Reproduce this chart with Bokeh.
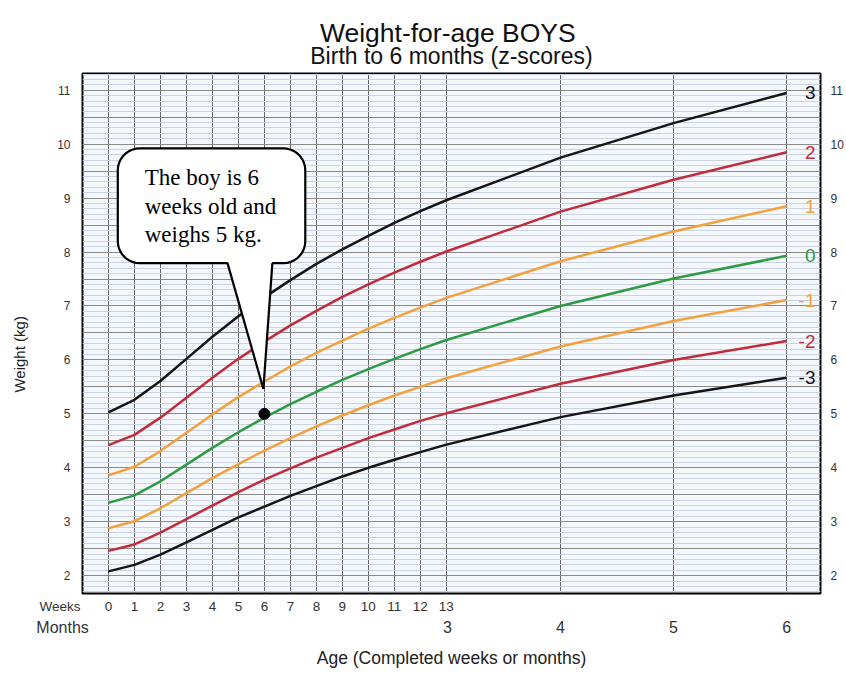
import math
from bokeh.plotting import figure
from bokeh.models import FixedTicker, LinearAxis, Range1d, Title
from bokeh.core.properties import value
from bokeh.embed import file_html
from bokeh.resources import INLINE

# ---------------- data ----------------
DAYS_PER_WEEK = 7.0
DAYS_PER_MONTH = 30.4375

week_ticks = list(range(0, 14))
week_labels = [str(w) for w in week_ticks]
month_ticks = [3, 4, 5, 6]
month_labels = ["3", "4", "5", "6"]
weight_ticks = list(range(2, 12))
row_names = ["Weeks", "Months"]

# ages of the curve points: weeks 0..13, then months 4, 5, 6
age_weeks = list(range(0, 14))
age_months = [4, 5, 6]

sd3 = [5.03, 5.26, 5.61, 6.02, 6.43, 6.81, 7.16, 7.48, 7.78, 8.05, 8.30, 8.54, 8.76, 8.96, 9.75, 10.39, 10.95]
sd2 = [4.42, 4.61, 4.93, 5.30, 5.67, 6.02, 6.34, 6.64, 6.91, 7.17, 7.40, 7.62, 7.82, 8.01, 8.75, 9.34, 9.85]
sd1 = [3.86, 4.02, 4.31, 4.65, 4.99, 5.31, 5.60, 5.88, 6.13, 6.36, 6.58, 6.78, 6.97, 7.15, 7.83, 8.38, 8.85]
sd0 = [3.35, 3.49, 3.75, 4.06, 4.37, 4.66, 4.93, 5.18, 5.41, 5.63, 5.83, 6.02, 6.20, 6.37, 7.00, 7.51, 7.93]
sd1n = [2.88, 3.01, 3.25, 3.53, 3.81, 4.07, 4.32, 4.55, 4.77, 4.97, 5.16, 5.34, 5.50, 5.66, 6.25, 6.72, 7.11]
sd2n = [2.46, 2.58, 2.80, 3.05, 3.30, 3.55, 3.78, 3.99, 4.19, 4.37, 4.55, 4.71, 4.87, 5.01, 5.56, 6.00, 6.35]
sd3n = [2.08, 2.20, 2.39, 2.62, 2.85, 3.08, 3.28, 3.48, 3.66, 3.84, 4.00, 4.15, 4.29, 4.43, 4.94, 5.34, 5.67]

curve_names = ["3", "2", "1", "0", "-1", "-2", "-3"]
curve_values = [sd3, sd2, sd1, sd0, sd1n, sd2n, sd3n]

child_age_weeks = 6
child_weight = 5.0
callout_lines = ["The boy is 6", "weeks old and", "weighs 5 kg."]

# ---------------- styles ----------------
BLACK = "#151515"
RED = "#c02c3c"
ORANGE = "#f2a23c"
GREEN = "#2e9a44"
curve_colors = [BLACK, RED, ORANGE, GREEN, ORANGE, RED, BLACK]
SANS = "Liberation Sans"
SERIF = "Liberation Serif"
NBSP = "\u00a0"

W, H = 846, 670
BL, BR, BT, BB = 82, 24, 73, 76
X0, X1 = -0.2294, 6.30
Y0, Y1 = 1.67, 11.31
PX_X = (W - BL - BR) / (X1 - X0)
PX_Y = (H - BT - BB) / (Y1 - Y0)


def wk(w):
    return w * DAYS_PER_WEEK / DAYS_PER_MONTH


x_curve = [wk(w) for w in age_weeks] + list(age_months)
week_x = [wk(w) for w in week_ticks]
row_tick = X0 + 0.0005   # row names are centred on the frame's left edge

p = figure(width=W, height=H, x_range=Range1d(X0, X1), y_range=Range1d(Y0, Y1),
           output_backend="svg", toolbar_location=None, title=None,
           min_border_left=BL, min_border_right=BR, min_border_top=BT, min_border_bottom=BB)
p.background_fill_color = "#f4f7fb"
p.border_fill_color = "white"
p.outline_line_color = "black"
p.outline_line_width = 2

# grid
p.xgrid.ticker = FixedTicker(ticks=week_x + [4, 5, 6])
p.xgrid.grid_line_color = "#666666"
p.xgrid.grid_line_width = 1
p.ygrid.ticker = FixedTicker(ticks=[1.5 + 0.5 * i for i in range(21)],
                             minor_ticks=[1.6 + 0.1 * i for i in range(100)])
p.ygrid.grid_line_color = "#8a8a8a"
p.ygrid.grid_line_width = 1
p.ygrid.minor_grid_line_color = "#c9d3e1"
p.ygrid.minor_grid_line_width = 1


def style_axis(ax, size, standoff):
    ax.axis_line_color = None
    ax.major_tick_line_color = None
    ax.minor_tick_line_color = None
    ax.major_tick_out = 0
    ax.major_tick_in = 0
    ax.minor_tick_out = 0
    ax.minor_tick_in = 0
    ax.major_label_text_font = SANS
    ax.major_label_text_font_size = size
    ax.major_label_text_color = "#333333"
    ax.major_label_standoff = standoff


# y axes
yax = p.yaxis[0]
yax.ticker = FixedTicker(ticks=weight_ticks)
style_axis(yax, "12px", 12)
yax.axis_label = "Weight (kg)" + NBSP * 10
yax.axis_label_text_font = SANS
yax.axis_label_text_font_size = "15px"
yax.axis_label_text_font_style = "normal"
yax.axis_label_text_color = "#222222"
yax.axis_label_standoff = 26
yax2 = LinearAxis(ticker=FixedTicker(ticks=weight_ticks))
style_axis(yax2, "12px", 10)
p.add_layout(yax2, "right")

# x axes (weeks row + months row); the row name sits left of the frame
xax = p.xaxis[0]
xax.ticker = FixedTicker(ticks=[row_tick] + week_x)
overrides = {x: lab for x, lab in zip(week_x, week_labels)}
overrides[row_tick] = row_names[0] + NBSP * 12
xax.major_label_overrides = overrides
style_axis(xax, "13.5px", 5)

xax2 = LinearAxis(ticker=FixedTicker(ticks=[row_tick] + month_ticks))
overrides2 = {m: lab for m, lab in zip(month_ticks, month_labels)}
overrides2[row_tick] = row_names[1] + NBSP * 9
xax2.major_label_overrides = overrides2
style_axis(xax2, "16px", 2)
xax2.axis_label = "Age (Completed weeks or months)"
xax2.axis_label_text_font = SANS
xax2.axis_label_text_font_size = "17.5px"
xax2.axis_label_text_font_style = "normal"
xax2.axis_label_text_color = "#222222"
xax2.axis_label_standoff = 9
p.add_layout(xax2, "below")

# titles
p.add_layout(Title(text="Birth to 6 months (z-scores)", align="center", text_font=SANS,
                   text_font_size="23px", text_font_style="normal", text_color="#111111",
                   standoff=9), "above")
p.add_layout(Title(text="Weight-for-age  BOYS", align="center", text_font=SANS,
                   text_font_size="26.5px", text_font_style="normal", text_color="#111111",
                   standoff=-23), "above")

# curves
for vals, col in zip(curve_values, curve_colors):
    p.line(x_curve, vals, line_color=col, line_width=2.5)

# z-score labels at right end
p.text(x=[age_months[-1] + 29 / PX_X] * len(curve_names), y=[v[-1] for v in curve_values],
       text=curve_names, text_color=curve_colors, text_align="right", text_baseline="middle",
       text_font=value(SANS), text_font_size="19px")

# callout (pixel offsets relative to the child's point)
cx, cy = wk(child_age_weeks), child_weight


def off(dx, dy):
    return cx + dx / PX_X, cy + dy / PX_Y


left, right, top, bottom, r = -147, 41, 266, 151, 22
pts = []
for (ccx, ccy, a0) in [(right - r, top - r, 0), (left + r, top - r, 90),
                       (left + r, bottom + r, 180), (right - r, bottom + r, 270)]:
    for k in range(10):
        a = math.radians(a0 + 90 * k / 9)
        pts.append(off(ccx + r * math.cos(a), ccy + r * math.sin(a)))
p.patch([q[0] for q in pts], [q[1] for q in pts], fill_color="white", line_color="black",
        line_width=2.2)
bl, br, tip = off(-37, bottom), off(8, bottom), off(-1, 25)
bl2, br2 = off(-37, bottom + 3), off(8, bottom + 3)
p.patch([bl2[0], br2[0], tip[0]], [bl2[1], br2[1], tip[1]], fill_color="white", line_color=None)
p.multi_line([[bl[0], tip[0]], [br[0], tip[0]]], [[bl[1], tip[1]], [br[1], tip[1]]],
             line_color="black", line_width=2.2, line_join="miter")
tx = [off(-120, 0)[0]] * 3
ty = [off(0, dy)[1] for dy in (237, 208, 180)]
p.text(x=tx, y=ty, text=callout_lines, text_font=value(SERIF), text_font_size="23px",
       text_color="black", text_baseline="middle")

p.scatter([cx], [cy], size=11, color="black")

open("out.html", "w").write(file_html(p, INLINE))
